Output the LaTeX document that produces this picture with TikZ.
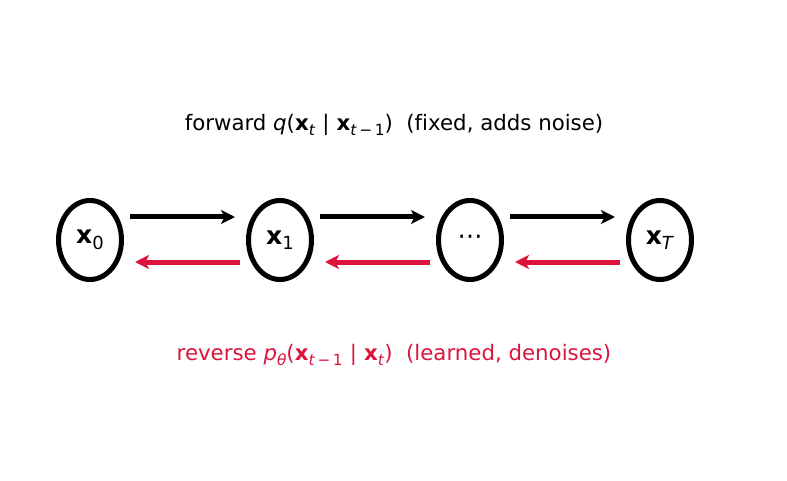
\documentclass[tikz,border=0pt]{standalone}
\usepackage{fontspec}
\setmainfont{DejaVu Sans}[Ligatures=NoCommon]
\usepackage{graphicx}
\usepackage{tikz}
\usetikzlibrary{positioning,arrows.meta,shapes.geometric}
\definecolor{crimson}{HTML}{DC143C}
\newcommand{\bx}{\textbf{x}}
\newcommand{\lowidx}[1]{\raisebox{-0.22em}{\scalebox{0.72}{#1}}}
\tikzset{
  state/.style={
      draw,
      ellipse,
      line width=5pt,
      minimum width=63pt,
      minimum height=79pt,
      inner sep=0pt,
      font=\fontsize{25}{29}\selectfont,
  },
  fwd/.style={
      draw=black,
      line width=5pt,
      -{Stealth[length=14pt,width=14pt,inset=3.5pt]},
  },
  rev/.style={
      draw=crimson,
      line width=5pt,
      -{Stealth[length=14pt,width=14pt,inset=3.5pt]},
  },
  caption/.style={
      font=\fontsize{21.3}{26}\selectfont,
  },
}

\begin{document}
\begin{tikzpicture}[x=1pt,y=1pt]
  \useasboundingbox (0,0) rectangle (787,480);
  \node[state](x0) at (90,240){\bx\lowidx{0}};
  \node[state](x1) at (280,240){\bx\lowidx{1}};
  \node[state](xd) at (470,240){⋯};
  \node[state](xT) at (660,240){\bx\lowidx{\textit{T}}};
  % forward chain
  \foreach \a/\b in {x0/x1,x1/xd,xd/xT}{
    \draw[fwd] ([xshift=40pt,yshift=23pt]\a.center) -- ([xshift=-45pt,yshift=23pt]\b.center);
  }
  % reverse chain
  \foreach \a/\b in {x0/x1,x1/xd,xd/xT}{
    \draw[rev] ([xshift=-40pt,yshift=-22pt]\b.center) -- ([xshift=45pt,yshift=-22pt]\a.center);
  }
  \node[caption](fwdlabel) at (394,355)
    {forward \textit{q}(\bx\lowidx{\textit{t}}\,\,|\,\,\bx\lowidx{\textit{t}\,−\,1})\ \ (fixed, adds noise)};
  \node[caption,text=crimson](revlabel) at (394,125)
    {reverse \textit{p}\lowidx{\textit{θ}}(\bx\lowidx{\textit{t}\,−\,1}\,\,|\,\,\bx\lowidx{\textit{t}})\ \ (learned, denoises)};
\end{tikzpicture}
\end{document}
